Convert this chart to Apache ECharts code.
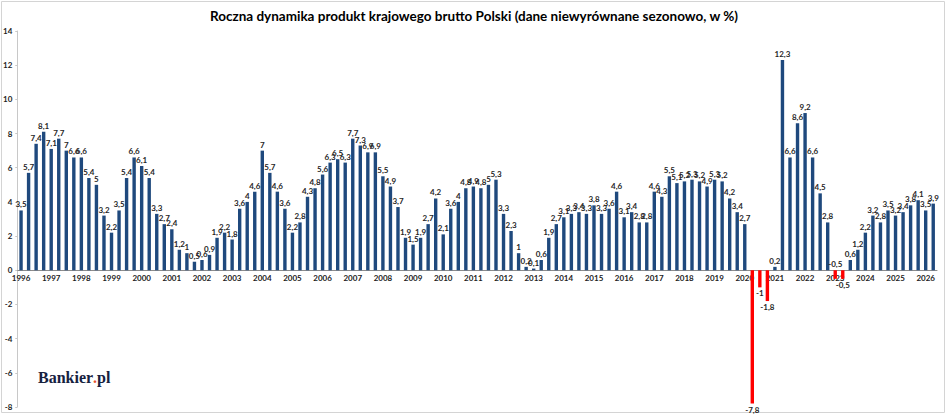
<!DOCTYPE html>
<html>
<head>
<meta charset="utf-8">
<script src="https://cdn.jsdelivr.net/npm/echarts@6/dist/echarts.min.js"></script>
<style>
  html, body { margin: 0; padding: 0; background: #fff; }
  #chart { width: 948px; height: 416px; }
</style>
</head>
<body>
<div id="chart"></div>
<script>
// quarterly values, 1996 Q1 onwards
var years = [1996, 1997, 1998, 1999, 2000, 2001, 2002, 2003, 2004, 2005, 2006, 2007, 2008, 2009, 2010,
  2011, 2012, 2013, 2014, 2015, 2016, 2017, 2018, 2019, 2020, 2021, 2022, 2023, 2024, 2025, 2026];
var gdp = [
  3.5, 5.7, 7.4, 8.1,   7.1, 7.7, 7, 6.6,     6.6, 5.4, 5, 3.2,     2.2, 3.5, 5.4, 6.6,
  6.1, 5.4, 3.3, 2.7,   2.4, 1.2, 1, 0.5,     0.6, 0.9, 1.9, 2.2,   1.8, 3.6, 4, 4.6,
  7, 5.7, 4.6, 3.6,     2.2, 2.8, 4.3, 4.8,   5.6, 6.3, 6.5, 6.3,   7.7, 7.3, 6.9, 6.9,
  5.5, 4.9, 3.7, 1.9,   1.5, 1.9, 2.7, 4.2,   2.1, 3.6, 4, 4.8,     4.9, 4.8, 5, 5.3,
  3.3, 2.3, 1, 0.2,     0.1, 0.6, 1.9, 2.7,   3.1, 3.3, 3.4, 3.3,   3.8, 3.3, 3.6, 4.6,
  3.1, 3.4, 2.8, 2.8,   4.6, 4.3, 5.5, 5.1,   5.2, 5.3, 5.2, 4.9,   5.3, 5.2, 4.2, 3.4,
  2.7, -7.8, -1, -1.8,  0.2, 12.3, 6.6, 8.6,  9.2, 6.6, 4.5, 2.8,   -0.5, -0.5, 0.6, 1.2,
  2.2, 3.2, 2.8, 3.5,   3.2, 3.4, 3.8, 4.1,   3.5, 3.9
];
var quarters = ['I', 'II', 'III', 'IV'];
var yMin = -8, yMax = 14;

// one category per quarter, year shown on Q1
var categories = gdp.map(function(v, i) {
  return years[Math.floor(i / 4)] + ' ' + quarters[i % 4];
});

var blue = '#1F497D';
var red = '#FF0000';
var labelAbove = [108]; // crowded negative label moved above the axis, as in the source

var barData = gdp.map(function(v, i) {
  var neg = v < 0;
  return {
    value: v,
    itemStyle: { color: neg ? red : blue },
    label: { position: (neg && labelAbove.indexOf(i) < 0) ? 'bottom' : 'top' }
  };
});

var gridTop = 31, gridBottom = 9, chartH = 416;
var plotH = chartH - gridTop - gridBottom;
// lift the category axis onto the zero line
var zeroOffset = -plotH * (0 - yMin) / (yMax - yMin);

var chart = echarts.init(document.getElementById('chart'), null, { renderer: 'svg' });
chart.setOption({
  animation: false,
  title: {
    text: 'Roczna dynamika produkt krajowego brutto Polski (dane niewyrównane sezonowo, w %)',
    left: 'center',
    top: 4,
    textStyle: { fontFamily: 'Lato', fontSize: 13.5, fontWeight: 'bold', color: '#000' }
  },
  grid: { left: 17, right: 11, top: gridTop, bottom: gridBottom },
  xAxis: {
    type: 'category',
    data: categories,
    offset: zeroOffset,
    axisLine: { onZero: false, lineStyle: { color: '#8c8c8c', width: 1 } },
    axisTick: { show: false },
    axisLabel: {
      interval: 3,
      margin: 4,
      fontFamily: 'Lato',
      fontSize: 8,
      fontWeight: 'bold',
      color: '#222',
      formatter: function(v) { return v.split(' ')[0]; }
    }
  },
  yAxis: {
    type: 'value',
    min: yMin,
    max: yMax,
    interval: 2,
    splitLine: { show: false },
    axisLine: { show: true, lineStyle: { color: '#c8c8c8' } },
    axisTick: { show: true, length: 2, lineStyle: { color: '#c8c8c8' } },
    axisLabel: {
      margin: 5,
      fontFamily: 'Lato',
      fontSize: 8,
      fontWeight: 'bold',
      color: '#222'
    }
  },
  series: [{
    type: 'bar',
    data: barData,
    barWidth: 3.4,
    label: {
      show: true,
      distance: 2,
      fontFamily: 'Lato',
      fontSize: 8,
      fontWeight: 'bold',
      color: '#262626',
      formatter: function(p) { return String(p.value).replace('.', ','); }
    }
  }],
  graphic: [
    {
      type: 'rect',
      shape: { x: 1.5, y: 1.5, width: 943, height: 411 },
      style: { fill: 'none', stroke: '#d4d4d4', lineWidth: 1 },
      silent: true
    },
    {
      type: 'text',
      left: 38,
      top: 369,
      style: {
        text: 'Bankier{dot|.}pl',
        font: 'bold 16px "Liberation Serif"',
        fill: '#16213f',
        rich: { dot: { fill: '#e8502a', font: 'bold 16px "Liberation Serif"' } }
      }
    }
  ]
});
</script>
</body>
</html>
